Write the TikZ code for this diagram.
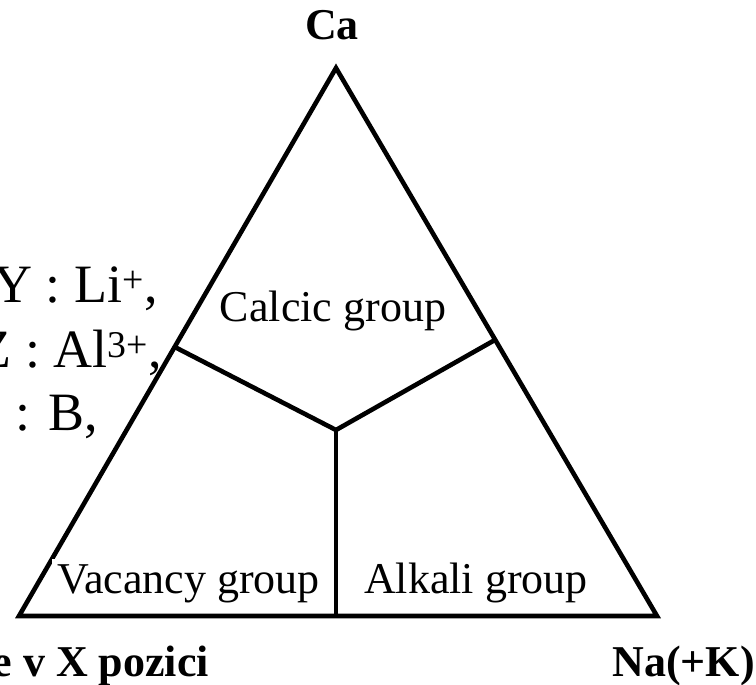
\documentclass[tikz,border=0pt]{standalone}
\usepackage{fontspec}
\setmainfont{Liberation Serif}
\usetikzlibrary{calc}

\begin{document}
\begin{tikzpicture}[x=1pt, y=-1pt,
    edge/.style={line width=4.6pt, line join=miter},
    grouplbl/.style={font=\fontsize{44}{50}\selectfont, fill=white, inner sep=5pt},
    cornerlbl/.style={font=\fontsize{44}{50}\selectfont\bfseries, inner sep=0pt},
    sitelbl/.style={font=\fontsize{54}{60}\selectfont, anchor=base east, inner sep=0pt}]
  \useasboundingbox (0,0) rectangle (756,685);
  % corners of the diagram
  \coordinate (ca) at (336,68);
  \coordinate (vac) at (19,616);
  \coordinate (na) at (657,616);
  \coordinate (mid) at (336,430);
  \coordinate (base) at (336,616);
  \coordinate (lj) at ($(vac)!0.491!(ca)$);
  \coordinate (rj) at ($(na)!0.504!(ca)$);
  % triangle and the three fields
  \draw[edge] (ca) -- (vac) -- (na) -- cycle;
  \draw[edge] (lj) -- (mid) -- (rj);
  \draw[edge] (mid) -- (base);
  % field names
  \node[grouplbl] (calcic) at (333,311) {Calcic group};
  \node[grouplbl, anchor=base west] (vacancy) at (52,593) {Vacancy group};
  \node[grouplbl, anchor=base west] (alkali) at (359,593) {Alkali group};
  % end members
  \node[cornerlbl] (catop) at (332,25) {Ca};
  \node[cornerlbl, anchor=base east] (nalbl) at (755,676) {Na(+K)};
  \node[cornerlbl, anchor=base east] (vaclbl) at (209,676) {e v X pozici};
  % substitutions on the left
  \foreach \x/\y/\nm/\txt in {158/302/ysite/{Y : Li\textsuperscript{+},},
      162/367/zsite/{Z : Al\textsuperscript{3+},},
      98/430/bsite/{: B,}}{
    \node[sitelbl] (\nm) at (\x,\y) {\txt};
  }
\end{tikzpicture}
\end{document}
